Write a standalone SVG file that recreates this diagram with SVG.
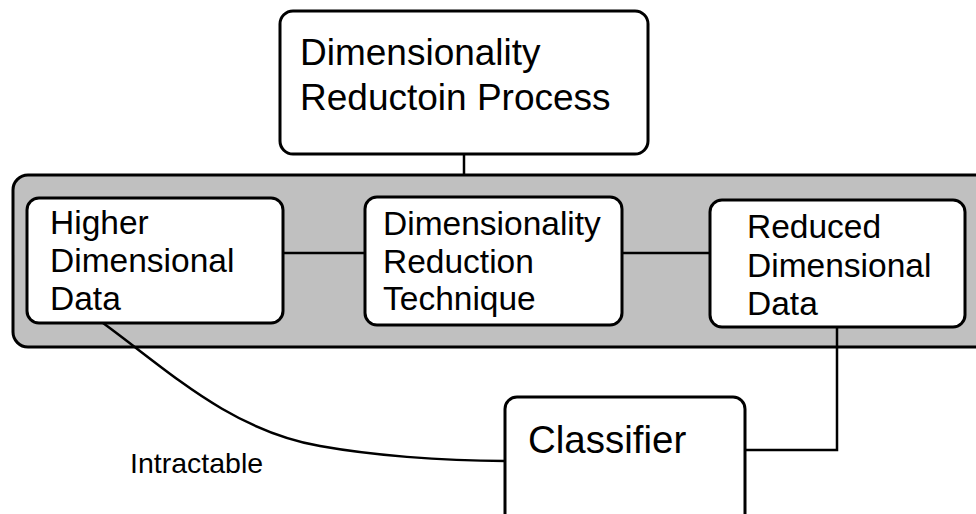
<svg xmlns="http://www.w3.org/2000/svg" width="976" height="514" viewBox="0 0 976 514">
<style>
.box{fill:#fff;stroke:#000;stroke-width:3}
.panel{fill:#c0c0c0;stroke:#000;stroke-width:3}
.con{fill:none;stroke:#000;stroke-width:2.5}
text{font-family:"Liberation Sans",Arial,sans-serif;fill:#000}
.big{font-size:37px}
.mid{font-size:33.5px}
.lbl{font-size:28.5px}
</style>
<rect width="976" height="514" fill="#fff"/>
<g id="panel">
<rect class="panel" x="13" y="175" width="990" height="172" rx="15"/>
</g>
<g id="connectors">
<line class="con" x1="464" y1="154" x2="464" y2="175"/>
<line class="con" x1="283" y1="253" x2="365" y2="253"/>
<line class="con" x1="622" y1="253" x2="710" y2="253"/>
<polyline class="con" points="837,327 837,450 745,450"/>
<path class="con" d="M103,323 C170,372 230,430 320,446 C370,455 440,461 505,461"/>
</g>
<g id="process">
<rect class="box" x="280" y="11" width="368" height="143" rx="13"/>
<text class="big" x="300" y="65">Dimensionality</text>
<text class="big" x="300" y="110">Reductoin Process</text>
</g>
<g id="higher">
<rect class="box" x="27" y="198" width="256" height="125" rx="12"/>
<text class="mid" x="50" y="234">Higher</text>
<text class="mid" x="50" y="272">Dimensional</text>
<text class="mid" x="50" y="310">Data</text>
</g>
<g id="technique">
<rect class="box" x="365" y="197" width="257" height="128" rx="12"/>
<text class="mid" x="383" y="235">Dimensionality</text>
<text class="mid" x="383" y="273">Reduction</text>
<text class="mid" x="383" y="310">Technique</text>
</g>
<g id="reduced">
<rect class="box" x="710" y="200" width="255" height="127" rx="12"/>
<text class="mid" x="747" y="238">Reduced</text>
<text class="mid" x="747" y="277">Dimensional</text>
<text class="mid" x="747" y="315">Data</text>
</g>
<g id="classifier">
<rect class="box" x="505" y="397" width="240" height="140" rx="12"/>
<text class="big" x="528" y="453" style="font-size:38.5px">Classifier</text>
</g>
<g id="intractable">
<text class="lbl" x="130" y="473">Intractable</text>
</g>
</svg>
